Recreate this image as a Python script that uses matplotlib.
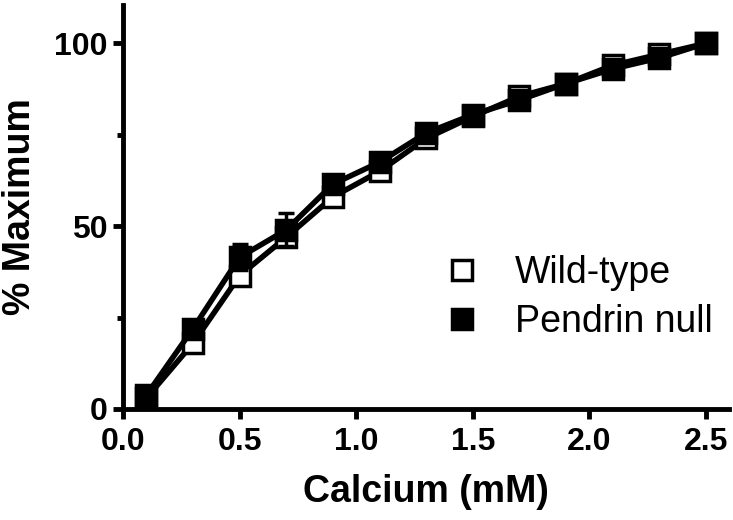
import matplotlib
matplotlib.use("Agg")
import matplotlib.pyplot as plt
from matplotlib.ticker import MultipleLocator
from matplotlib.lines import Line2D

plt.rcParams["font.family"] = ["Liberation Sans", "DejaVu Sans"]

# calcium concentrations (mM) and % maximum response
calcium = [0.1, 0.3, 0.5, 0.7, 0.9, 1.1, 1.3, 1.5, 1.7, 1.9, 2.1, 2.3, 2.5]
wild_type = [3, 18, 36.5, 47, 58, 65, 74, 80, 85.5, 89, 94, 97, 100]
wild_type_err = [1, 1.5, 2, 2, 1.5, 1.5, 1, 1, 1, 1, 1, 1, 0]
pendrin_null = [3.8, 22, 41.5, 49, 61.5, 67.5, 75.5, 80.5, 84.5, 89, 93, 96, 100]
pendrin_null_err = [1, 1.5, 3.5, 4.5, 1.5, 1.5, 1, 1, 1, 1, 1, 1, 0]
x_ticks = [0.0, 0.5, 1.0, 1.5, 2.0, 2.5]
x_tick_labels = ["0.0", "0.5", "1.0", "1.5", "2.0", "2.5"]

fig = plt.figure(figsize=(7.33, 5.2), dpi=100)
ax = fig.add_axes([0.168, 0.2135, 0.827, 0.777])

ax.errorbar(calcium, pendrin_null, yerr=pendrin_null_err, color="black",
            lw=4, elinewidth=2.5, capsize=6, capthick=2.5,
            marker="s", markersize=14, markerfacecolor="black",
            markeredgecolor="black", markeredgewidth=2.5,
            clip_on=False, zorder=3)
ax.errorbar(calcium, wild_type, yerr=wild_type_err, color="black",
            lw=4, elinewidth=2.5, capsize=6, capthick=2.5,
            marker="s", markersize=14, markerfacecolor="white",
            markeredgecolor="black", markeredgewidth=2.5,
            clip_on=False, zorder=2)

ax.set_xlim(0, 2.6)
ax.set_ylim(0, 110.5)
ax.set_xticks(x_ticks)
ax.set_xticklabels(x_tick_labels)
ax.yaxis.set_major_locator(MultipleLocator(50))
ax.yaxis.set_minor_locator(MultipleLocator(25))

for side in ["top", "right"]:
    ax.spines[side].set_visible(False)
for side in ["left", "bottom"]:
    ax.spines[side].set_linewidth(3.5)

ax.tick_params(which="major", direction="out", length=7, width=3.5,
               labelsize=23)
ax.tick_params(axis="x", which="major", pad=6)
ax.tick_params(axis="y", which="major", pad=4)
ax.tick_params(which="minor", direction="out", length=4, width=3.5)
for lab in ax.get_xticklabels() + ax.get_yticklabels():
    lab.set_fontweight("bold")

ax.set_xlabel("Calcium (mM)", fontsize=27, fontweight="bold", labelpad=12)
ax.set_ylabel("% Maximum", fontsize=27, fontweight="bold", labelpad=12)

# legend with plain symbols, no line or error bar
handles = [
    Line2D([], [], linestyle="none", marker="s", markersize=15,
           markerfacecolor="white", markeredgecolor="black",
           markeredgewidth=2.5),
    Line2D([], [], linestyle="none", marker="s", markersize=15,
           markerfacecolor="black", markeredgecolor="black",
           markeredgewidth=2.5),
]
ax.legend(handles, ["Wild-type", "Pendrin null"], frameon=False, fontsize=27,
          loc="center left", bbox_to_anchor=(0.559, 0.428),
          bbox_transform=fig.transFigure, handlelength=1.0,
          handletextpad=0.9, labelspacing=0.33, numpoints=1)

fig.savefig("out.png", dpi=100)
